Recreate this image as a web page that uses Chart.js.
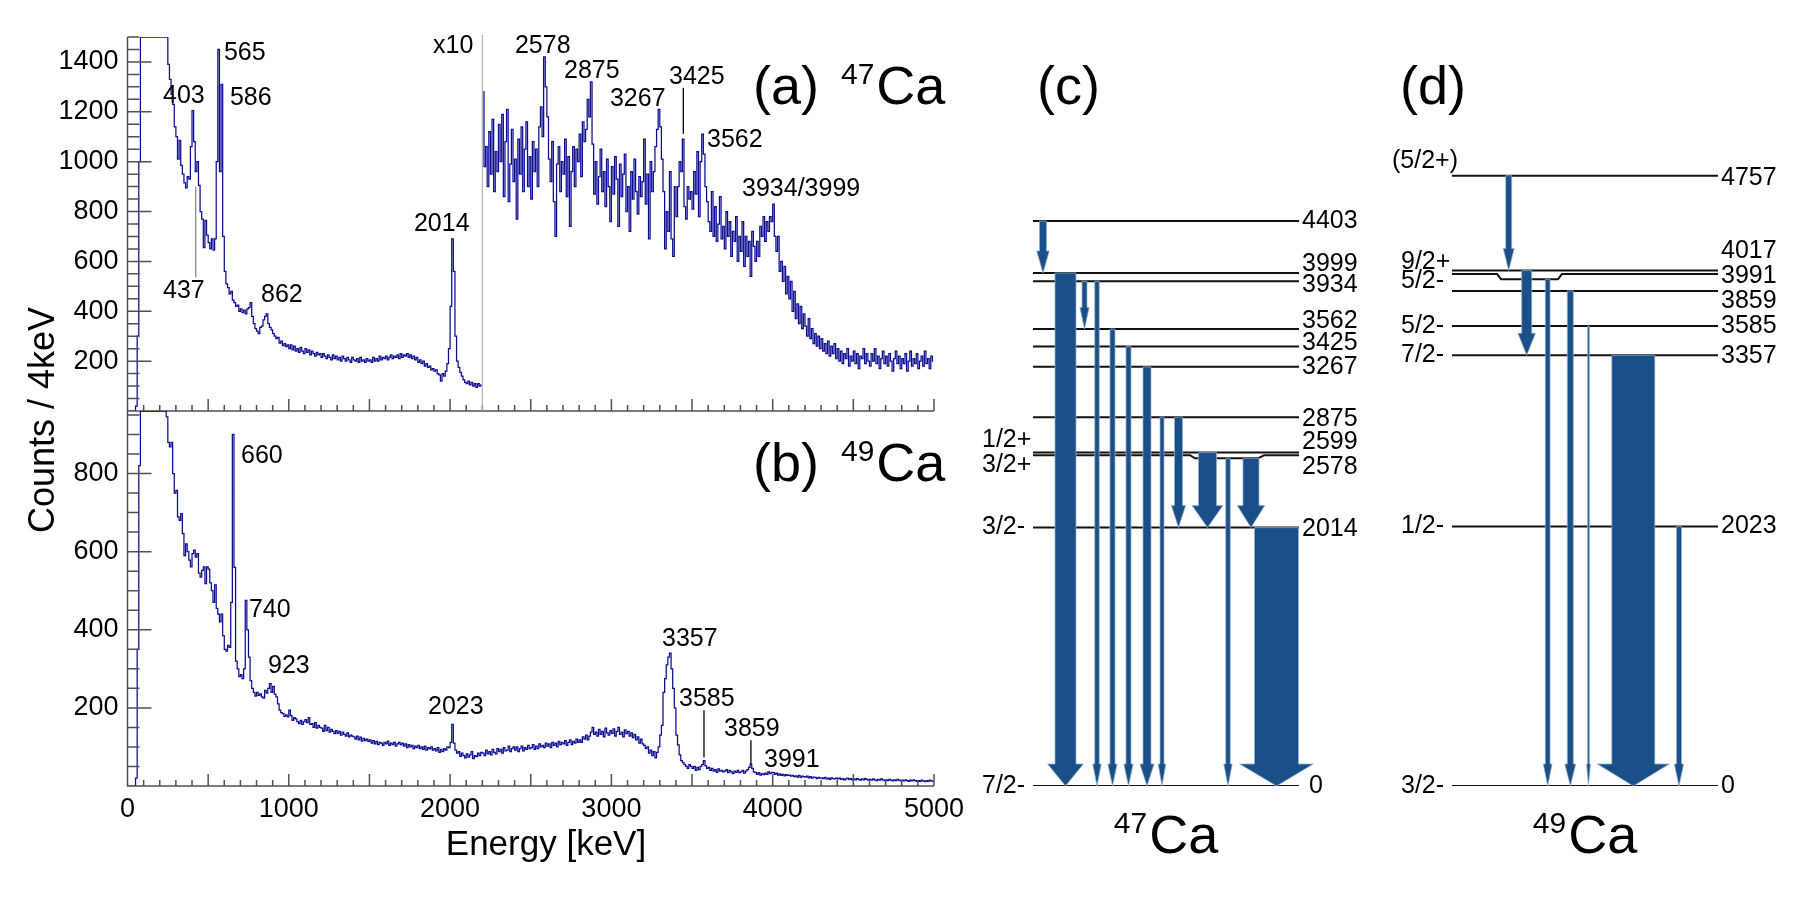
<!DOCTYPE html>
<html>
<head>
<meta charset="utf-8">
<title>47Ca / 49Ca gamma spectra and level schemes</title>
<script src="https://cdn.jsdelivr.net/npm/chart.js@4.4.1/dist/chart.umd.min.js"></script>
<style>
  html, body { margin: 0; padding: 0; background: #fff; }
  #wrap { position: relative; width: 1800px; height: 900px; }
  #wrap canvas { position: absolute; left: 0; top: 0; }
</style>
</head>
<body>
<div id="wrap">
  <canvas id="spec47" width="1800" height="900"></canvas>
  <canvas id="spec49" width="1800" height="900"></canvas>
  <canvas id="levels47" width="1800" height="900"></canvas>
  <canvas id="levels49" width="1800" height="900"></canvas>
</div>
<script>
// ---------------- spectra (10 keV bins, counts as drawn) ----------------
const binWidth = 10;

// 47Ca, 0 - 2190 keV
const ca47Low = [
  0, 0, 0, 0, 0, 20, 300, 1000, 1500, 1500,
  1500, 1500, 1500, 1500, 1500, 1500, 1500, 1500, 1500, 1500,
  1500, 1500, 1500, 1500, 1500, 1390, 1330, 1270, 1230, 1140,
  1100, 1010, 1085, 985, 950, 915, 895, 940, 930, 1060,
  1205, 1080, 960, 1000, 905, 800, 770, 655, 765, 705,
  675, 650, 690, 645, 690, 1000, 1450, 960, 1310, 700,
  560, 510, 495, 470, 480, 445, 435, 420, 425, 400,
  410, 395, 405, 390, 410, 415, 435, 380, 350, 330,
  320, 310, 335, 340, 365, 380, 390, 350, 335, 325,
  310, 300, 290, 295, 272, 280, 262, 270, 258, 265,
  250, 265, 245, 260, 240, 250, 235, 255, 240, 230,
  250, 235, 245, 225, 240, 230, 220, 235, 225, 230,
  215, 230, 220, 210, 225, 215, 205, 225, 210, 220,
  205, 215, 200, 220, 210, 200, 215, 205, 195, 215,
  205, 200, 210, 195, 215, 200, 205, 195, 210, 200,
  205, 195, 215, 200, 210, 200, 220, 205, 215, 210,
  220, 205, 215, 225, 210, 220, 215, 225, 210, 230,
  215, 225, 220, 230, 215, 225, 210, 220, 205, 215,
  195, 205, 190, 200, 180, 190, 175, 180, 165, 170,
  160, 165, 150, 145, 120, 150, 140, 160, 190, 250,
  420, 690, 560, 300, 200, 175, 155, 140, 125, 115,
  110, 120, 105, 115, 100, 110, 95, 110, 100, 105
];

// 47Ca, 2200 - 4990 keV, drawn multiplied by 10
const ca47HighX10 = [
  1280, 980, 1060, 900, 1120, 950, 1170, 880, 1040, 960,
  1150, 1000, 1190, 860, 1080, 1210, 840, 990, 1130, 920,
  1010, 770, 1090, 950, 1140, 880, 1050, 1160, 900, 1020,
  850, 1080, 960, 1050, 900, 1140, 1220, 1100, 1420, 1300,
  1180, 1010, 920, 1080, 840, 700, 990, 1060, 880, 1000,
  950, 1090, 860, 1020, 740, 960, 1060, 900, 1050, 1000,
  1110, 940, 1160, 1080, 1130, 1250, 1180, 1320, 1070, 870,
  1000, 830, 940, 1050, 880, 960, 820, 1010, 900, 760,
  980, 870, 1020, 930, 740, 990, 860, 950, 1030, 800,
  900, 720, 960, 850, 1010, 880, 790, 940, 860, 920,
  1090, 830, 950, 690, 1000, 880, 960, 1060, 1130, 1210,
  1140, 1010, 880, 650, 800, 720, 960, 690, 620, 900,
  780, 900, 1000, 960, 1090, 820, 770, 900, 850, 880,
  810, 960, 870, 1040, 780, 1000, 1110, 1030, 900, 840,
  760, 720, 880, 700, 820, 680, 750, 860, 690, 740,
  650, 800, 700, 760, 620, 720, 680, 780, 600, 700,
  640, 760, 580, 700, 620, 680, 540, 720, 660, 600,
  680, 620, 740, 700, 780, 680, 760, 720, 780, 760,
  830, 700, 640, 700, 560, 600, 520, 580, 470, 540,
  450, 520, 400, 480, 370, 430, 350, 420, 330, 390,
  340, 300, 370, 290, 330, 270, 310, 260, 300, 250,
  290, 240, 270, 230, 280, 220, 260, 230, 270, 210,
  250, 200, 240, 190, 230, 210, 250, 180, 220, 200,
  240, 190, 230, 170, 220, 210, 250, 190, 230, 200,
  180, 230, 200, 250, 190, 220, 170, 210, 240, 190,
  220, 180, 230, 200, 160, 210, 240, 190, 220, 170,
  210, 190, 230, 160, 200, 240, 180, 210, 190, 230,
  170, 200, 220, 180, 240, 190, 210, 170, 220, 200
];

// 49Ca, 0 - 4990 keV
const ca49 = [
  0, 0, 0, 0, 0, 20, 350, 820, 960, 960,
  960, 960, 960, 960, 960, 960, 960, 960, 960, 960,
  960, 960, 960, 960, 945, 880, 868, 880, 800, 750,
  757, 689, 680, 697, 646, 590, 620, 600, 578, 561,
  595, 604, 586, 595, 545, 535, 552, 561, 518, 561,
  555, 520, 500, 470, 515, 455, 440, 420, 440, 385,
  350, 345, 360, 355, 470, 900, 560, 320, 300, 280,
  285, 275, 300, 475, 400, 330, 270, 250, 240, 230,
  240, 232, 236, 228, 225, 245, 238, 250, 262, 240,
  255, 235, 228, 210, 194, 188, 185, 178, 182, 177,
  194, 180, 168, 175, 172, 165, 160, 168, 158, 165,
  170, 162, 175, 158, 160, 150, 162, 148, 155, 150,
  148, 140, 155, 142, 150, 138, 145, 140, 134, 142,
  135, 140, 130, 138, 132, 128, 136, 126, 130, 128,
  126, 120, 128, 118, 125, 115, 122, 116, 120, 114,
  118, 110, 116, 108, 114, 106, 112, 110, 104, 112,
  108, 115, 104, 110, 106, 112, 102, 108, 112, 106,
  110, 102, 108, 98, 106, 100, 104, 96, 102, 98,
  104, 96, 100, 94, 102, 92, 98, 95, 100, 92,
  96, 90, 98, 86, 94, 88, 96, 92, 100, 98,
  112, 158, 110, 92, 84, 88, 76, 84, 78, 72,
  82, 74, 80, 88, 70, 78, 75, 84, 78, 86,
  84, 78, 92, 82, 88, 80, 94, 86, 82, 96,
  88, 94, 84, 98, 90, 92, 102, 88, 96, 100,
  92, 100, 88, 96, 102, 90, 98, 94, 104, 96,
  98, 106, 94, 102, 96, 108, 100, 104, 98, 110,
  102, 108, 98, 112, 104, 110, 100, 114, 106, 112,
  108, 116, 104, 112, 118, 106, 114, 110, 120, 112,
  118, 112, 126, 120, 130, 118, 128, 138, 150, 132,
  138, 128, 145, 132, 140, 126, 148, 136, 130, 142,
  135, 146, 128, 140, 150, 132, 138, 126, 144, 134,
  140, 128, 136, 124, 132, 118, 126, 110, 120, 108,
  104, 96, 100, 84, 92, 78, 88, 72, 86, 100,
  130, 155, 240, 275, 310, 330, 340, 300, 250, 200,
  130, 105, 80, 65, 60, 55, 50, 45, 55, 50,
  45, 50, 40, 48, 42, 50, 55, 65, 52, 45,
  48, 40, 45, 38, 42, 35, 44, 38, 40, 36,
  38, 42, 34, 40, 36, 32, 38, 35, 40, 34,
  36, 40, 33, 38, 42, 48, 56, 45, 36, 34,
  30, 34, 28, 32, 29, 33, 30, 36, 32, 35,
  34, 30, 33, 28, 31, 27, 30, 26, 29, 27,
  28, 25, 27, 24, 26, 23, 27, 22, 25, 24,
  23, 25, 21, 24, 20, 23, 22, 19, 22, 20,
  21, 19, 22, 18, 20, 17, 21, 19, 18, 20,
  18, 20, 17, 19, 16, 18, 20, 17, 19, 16,
  18, 16, 19, 17, 15, 18, 16, 19, 17, 15,
  17, 15, 18, 16, 14, 17, 15, 18, 16, 14,
  16, 14, 17, 15, 13, 16, 14, 17, 15, 13,
  15, 13, 16, 14, 12, 15, 13, 16, 14, 12,
  14, 12, 15, 13, 11, 14, 12, 15, 13, 12
];

const energyTicks = [0, 1000, 2000, 3000, 4000, 5000];
const countTicks47 = [200, 400, 600, 800, 1000, 1200, 1400];
const countTicks49 = [200, 400, 600, 800];
const x10Start = 2200;

// peak labels (text) and where they sit, in (keV, counts)
const peakNames47 = ['403', '565', '586', '437', '862', '2014', '2578', '2875', '3267', '3425', '3562', '3934/3999'];
const peakSpots47 = [[220, 1264], [598, 1436], [635, 1256], [220, 480], [828, 464], [1776, 748],
                     [2402, 1464], [2706, 1364], [2991, 1252], [3357, 1340], [3593, 1088], [3810, 888]];
const peakNames49 = ['660', '740', '923', '2023', '3357', '3585', '3859', '3991'];
const peakSpots49 = [[704, 844], [753, 450], [871, 307], [1863, 202], [3314, 376], [3419, 222], [3698, 145], [3946, 66]];
// marker sticks: energy, counts top, counts bottom, colour
const sticks47 = [[423, 900, 536, '#888'], [3446, 1296, 1112, '#000']];
const sticks49 = [[3574, 194, 73, '#000'], [3865, 117, 56, '#000']];

// ---------------- level schemes ----------------
const levels47 = [0, 2014, 2578, 2599, 2875, 3267, 3425, 3562, 3934, 3999, 4403];
const spins47 = ['7/2-', '3/2-', '3/2+', '1/2+', '', '', '', '', '', '', ''];
// [from keV, to keV, arrow width]
const gammas47 = [
  [4403, 3999, 7], [3999, 0, 21], [3934, 3562, 5], [3934, 0, 4.5], [3562, 0, 5],
  [3425, 0, 5], [3267, 0, 8], [2875, 0, 4], [2875, 2014, 8], [2599, 2014, 18],
  [2578, 0, 4.5], [2578, 2014, 16], [2014, 0, 44]
];
const levels49 = [0, 2023, 3357, 3585, 3859, 3991, 4017, 4757];
const spins49 = ['3/2-', '1/2-', '7/2-', '5/2-', '', '5/2-', '9/2+', '(5/2+)'];
const gammas49 = [
  [4757, 4017, 6], [4017, 3357, 10], [3991, 0, 4.7], [3859, 0, 6],
  [3585, 0, 1.7], [3357, 0, 43], [2023, 0, 5]
];

// ---------------- layout / style ----------------
const FONT = "'Liberation Sans', Arial, Helvetica, sans-serif";
const HIST = '#0b0b92';
const AXIS = '#505050';
const ARROW = '#1a4f87';
Chart.defaults.font.family = FONT;
Chart.defaults.color = '#000';

const schemeWidth = 266;
const columns47 = [10, 32.5, 51.5, 64, 79.5, 95.5, 114, 129, 145.5, 174.5, 195, 218, 243.5];
const columns49 = [56.7, 74.7, 95.7, 118.3, 136.5, 181.3, 227];

function binPoints(values, startE) {
  return values.map((c, i) => ({ x: startE + (i + 0.5) * binWidth, y: c }));
}

function font(px) { return px + 'px ' + FONT; }

function drawNucleus(ctx, prefix, mass, x, baseline, centred) {
  ctx.save();
  ctx.fillStyle = '#000';
  ctx.textBaseline = 'alphabetic';
  ctx.textAlign = 'left';
  ctx.font = font(54);
  const wPre = prefix ? ctx.measureText(prefix).width + 22 : 0;
  const wCa = ctx.measureText('Ca').width;
  ctx.font = font(30);
  const wMass = ctx.measureText(mass).width + 2;
  let left = centred ? x - (wPre + wMass + wCa) / 2 : x;
  if (prefix) {
    ctx.font = font(54);
    ctx.fillText(prefix, left, baseline);
    left += wPre;
  }
  ctx.font = font(30);
  ctx.fillText(mass, left, baseline - 20);
  left += wMass;
  ctx.font = font(54);
  ctx.fillText('Ca', left, baseline);
  ctx.restore();
}

// ROOT-like axes: ticks inside the frame, labels, sticks
function spectrumDecor(cfg) {
  return {
    id: 'spectrumDecor',
    afterDatasetsDraw(chart) {
      const { ctx, chartArea: a, scales: { x, y } } = chart;
      ctx.save();
      ctx.strokeStyle = AXIS;
      ctx.lineWidth = 1.5;
      ctx.beginPath();
      ctx.moveTo(a.left, a.top);
      ctx.lineTo(a.left, a.bottom);
      ctx.lineTo(a.right, a.bottom);
      for (let v = 0; v <= y.max + 0.01; v += 50) {
        const py = y.getPixelForValue(v);
        ctx.moveTo(a.left, py);
        ctx.lineTo(a.left + (v % 200 === 0 ? 24 : 12), py);
      }
      for (let e = 0; e <= x.max; e += 100) {
        const px = x.getPixelForValue(e);
        ctx.moveTo(px, a.bottom);
        ctx.lineTo(px, a.bottom - (e % 500 === 0 ? 12 : 6));
      }
      ctx.stroke();

      if (cfg.split) {
        const px = x.getPixelForValue(cfg.split);
        ctx.strokeStyle = '#b5b5b5';
        ctx.lineWidth = 1.2;
        ctx.beginPath();
        ctx.moveTo(px, a.top - 2);
        ctx.lineTo(px, a.bottom);
        ctx.stroke();
      }

      cfg.sticks.forEach(([e, c0, c1, col]) => {
        const px = x.getPixelForValue(e);
        ctx.strokeStyle = col;
        ctx.lineWidth = 1.3;
        ctx.beginPath();
        ctx.moveTo(px, y.getPixelForValue(c0));
        ctx.lineTo(px, y.getPixelForValue(c1));
        ctx.stroke();
      });

      ctx.fillStyle = '#000';
      ctx.font = font(25);
      ctx.textAlign = 'left';
      ctx.textBaseline = 'middle';
      cfg.names.forEach((t, i) => {
        const [e, c] = cfg.spots[i];
        ctx.fillText(t, x.getPixelForValue(e), y.getPixelForValue(c));
      });
      if (cfg.extra) cfg.extra(ctx, chart);
      ctx.restore();
    }
  };
}

function makeSpectrum(id, series, cfg) {
  return new Chart(document.getElementById(id), {
    type: 'line',
    data: {
      datasets: series.map(d => ({
        data: d, borderColor: HIST, borderWidth: 1.25, pointRadius: 0,
        stepped: 'middle', fill: false, tension: 0
      }))
    },
    options: {
      responsive: false, animation: false, devicePixelRatio: 1,
      layout: { padding: cfg.padding },
      plugins: { legend: { display: false }, tooltip: { enabled: false } },
      scales: {
        x: {
          type: 'linear', min: 0, max: 5000, display: cfg.showX,
          afterFit: s => { s.height = cfg.xHeight || 0; },
          afterBuildTicks: s => { s.ticks = energyTicks.map(v => ({ value: v })); },
          grid: { display: false, drawTicks: false }, border: { display: false },
          ticks: { autoSkip: false, maxRotation: 0, padding: 7, font: { size: 27 }, callback: v => String(v) }
        },
        y: {
          type: 'linear', min: 0, max: cfg.yMax,
          afterFit: s => { s.width = 127.5; },
          afterBuildTicks: s => { s.ticks = cfg.yTicks.map(v => ({ value: v })); },
          grid: { display: false, drawTicks: false }, border: { display: false },
          ticks: { autoSkip: false, padding: 9, font: { size: 27 }, callback: v => String(v) }
        }
      }
    },
    plugins: [spectrumDecor(cfg)]
  });
}

makeSpectrum('spec47', [binPoints(ca47Low, 0), binPoints(ca47HighX10, x10Start)], {
  padding: { left: 0, top: 37, right: 866, bottom: 489 },
  showX: false, yMax: 1500, yTicks: countTicks47, split: x10Start,
  sticks: sticks47, names: peakNames47, spots: peakSpots47,
  extra(ctx, chart) {
    const { x, y } = chart.scales;
    ctx.font = font(25);
    ctx.fillText('x10', x.getPixelForValue(1894), y.getPixelForValue(1464));
    drawNucleus(ctx, '(a)', '47', 753, 104, false);
  }
});

makeSpectrum('spec49', [binPoints(ca49, 0)], {
  padding: { left: 0, top: 411, right: 866, bottom: 0 },
  showX: true, xHeight: 114, yMax: 960, yTicks: countTicks49,
  sticks: sticks49, names: peakNames49, spots: peakSpots49,
  extra(ctx) {
    drawNucleus(ctx, '(b)', '49', 753, 481, false);
    ctx.font = font(35);
    ctx.textAlign = 'center';
    ctx.textBaseline = 'alphabetic';
    ctx.fillText('Energy [keV]', 546, 855);
    ctx.save();
    ctx.translate(54, 420);
    ctx.rotate(-Math.PI / 2);
    ctx.font = font(36);
    ctx.fillText('Counts / 4keV', 0, 0);
    ctx.restore();
  }
});

// ---------------- level scheme charts ----------------
function schemePlugin(cfg) {
  return {
    id: 'scheme',
    afterDatasetsDraw(chart) {
      const { ctx, chartArea: a, scales: { x, y } } = chart;
      ctx.save();
      ctx.fillStyle = ARROW;
      ctx.strokeStyle = 'rgba(150,175,205,0.9)';
      ctx.lineWidth = 0.8;
      cfg.gammas.forEach(([from, to, w], i) => {
        const col = cfg.columns[i];
        const dip = cfg.dips[from];
        const eStart = dip && col > dip.x[1] && col < dip.x[2] ? dip.e : from;
        const cx = x.getPixelForValue(col);
        const pw = x.getPixelForValue(col + w) - x.getPixelForValue(col);
        const y0 = y.getPixelForValue(eStart);
        const y1 = y.getPixelForValue(to);
        const hw = 1.65 * pw + 1;
        const hl = Math.min(22, (y1 - y0) * 0.45);
        ctx.beginPath();
        ctx.moveTo(cx - pw / 2, y0);
        ctx.lineTo(cx + pw / 2, y0);
        ctx.lineTo(cx + pw / 2, y1 - hl);
        ctx.lineTo(cx + hw / 2, y1 - hl);
        ctx.lineTo(cx, y1);
        ctx.lineTo(cx - hw / 2, y1 - hl);
        ctx.lineTo(cx - pw / 2, y1 - hl);
        ctx.closePath();
        ctx.fill();
        ctx.stroke();
      });

      ctx.fillStyle = '#000';
      ctx.font = font(25);
      ctx.textBaseline = 'middle';
      cfg.levels.forEach((E, i) => {
        const py = y.getPixelForValue(E);
        ctx.textAlign = 'left';
        ctx.fillText(String(E), a.right + 3 + (cfg.eDx[E] || 0), py + (cfg.eShift[E] || 0));
        if (cfg.spins[i]) {
          ctx.fillText(cfg.spins[i], a.left - 51 + (cfg.sDx[E] || 0), py + (cfg.sShift[E] || 0));
        }
      });

      ctx.font = font(54);
      ctx.textBaseline = 'alphabetic';
      ctx.fillText(cfg.letter, a.left + cfg.letterDx, 104);
      drawNucleus(ctx, '', cfg.mass, (a.left + a.right) / 2, 853, true);
      ctx.restore();
    }
  };
}

function makeScheme(id, cfg) {
  const datasets = cfg.levels.map(E => {
    const dip = cfg.dips[E];
    const pts = dip
      ? [[0, E], [dip.x[0], E], [dip.x[1], dip.e], [dip.x[2], dip.e], [dip.x[3], E], [schemeWidth, E]]
      : [[0, E], [schemeWidth, E]];
    return {
      data: pts.map(([px, e]) => ({ x: px, y: e })),
      borderColor: '#111', borderWidth: 2, pointRadius: 0, fill: false, tension: 0
    };
  });
  return new Chart(document.getElementById(id), {
    type: 'line',
    data: { datasets },
    options: {
      responsive: false, animation: false, devicePixelRatio: 1,
      layout: { padding: cfg.padding },
      plugins: { legend: { display: false }, tooltip: { enabled: false } },
      scales: {
        x: { type: 'linear', min: 0, max: schemeWidth, display: false },
        y: { type: 'linear', min: 0, max: 5000, display: false }
      }
    },
    plugins: [schemePlugin(cfg)]
  });
}

makeScheme('levels47', {
  levels: levels47, spins: spins47, gammas: gammas47, columns: columns47,
  padding: { left: 1033, right: 501, top: 144.5, bottom: 114 },
  dips: { 2578: { x: [157, 162, 225, 231], e: 2554 } },
  eShift: { 3999: -9, 3934: 4, 3562: -8, 3425: -3, 2875: 2, 2599: -10, 2578: 12, 2014: 2 },
  eDx: { 0: 7 },
  sShift: { 2599: -12, 2578: 10 },
  sDx: {},
  letter: '(c)', letterDx: 4, mass: '47'
});

makeScheme('levels49', {
  levels: levels49, spins: spins49, gammas: gammas49, columns: columns49,
  padding: { left: 1452, right: 82, top: 144.5, bottom: 114 },
  dips: { 3991: { x: [45, 49, 106, 110], e: 3950 } },
  eShift: { 4757: 2, 4017: -20, 3991: 2, 3859: 10, 3357: 1 },
  eDx: {},
  sShift: { 4757: -15, 4017: -9, 3991: 7 },
  sDx: { 4757: -9 },
  letter: '(d)', letterDx: -52, mass: '49'
});
</script>
</body>
</html>
